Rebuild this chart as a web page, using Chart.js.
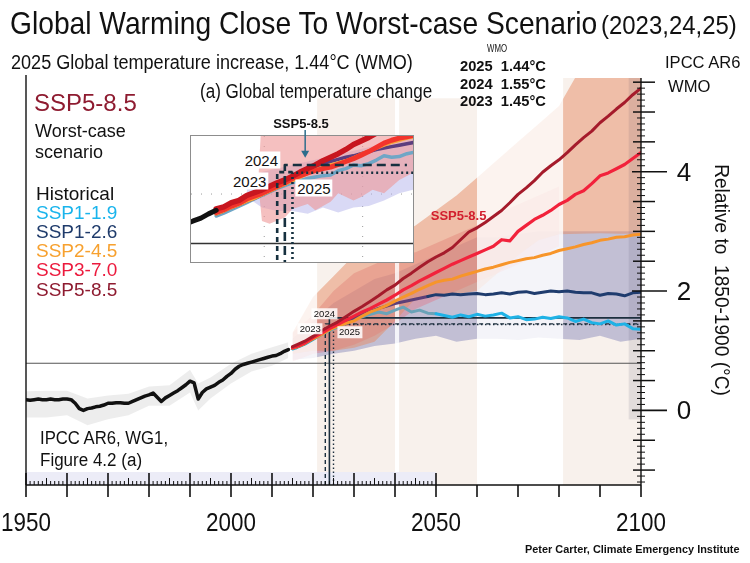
<!DOCTYPE html>
<html lang="en">
<head>
<meta charset="utf-8">
<title>Global Warming Close To Worst-case Scenario</title>
<script src="https://cdn.jsdelivr.net/npm/chart.js@4.4.1/dist/chart.umd.min.js"></script>
<style>
  html, body { margin: 0; padding: 0; background: #fff; }
  #wrap { position: relative; width: 750px; height: 563px; overflow: hidden; font-family: "Liberation Sans", Arial, sans-serif; color: #111; }
  #main { position: absolute; left: 0; top: 0; }
  #insetBox { position: absolute; left: 190px; top: 135px; width: 222px; height: 126px; border: 1.5px solid #8d8d8d; background: #fff; }
  #insetBox canvas { display: block; }
  #arrow { position: absolute; left: 0; top: 0; pointer-events: none; }
  .t { position: absolute; white-space: pre; line-height: 1; }
  .n { font-family: "Liberation Sans Narrow", "Arial Narrow", "Liberation Sans", Arial, sans-serif; }
</style>
</head>
<body>
<div id="wrap">
  <canvas id="main" width="750" height="563"></canvas>
  <div id="insetBox"><canvas id="inset" width="222" height="126"></canvas></div>
  <svg id="arrow" width="750" height="563"></svg>
</div>
<script>
// ---- main panel data (°C relative to 1850-1900) ----
const histYears = [1950,1951,1952,1953,1954,1955,1956,1957,1958,1959,1960,1961,1962,1963,1964,1965,1966,1967,1968,1969,
  1970,1971,1972,1973,1974,1975,1976,1977,1978,1979,1980,1981,1982,1983,1984,1985,1986,1987,1988,1989,
  1990,1991,1992,1993,1994,1995,1996,1997,1998,1999,2000,2001,2002,2003,2004,2005,2006,2007,2008,2009,
  2010,2011,2012,2013,2014];
const histTemps = [0.18,0.17,0.18,0.19,0.18,0.18,0.19,0.18,0.18,0.19,0.19,0.18,0.12,0.03,0.00,0.03,0.04,0.06,0.07,0.09,
  0.12,0.12,0.13,0.13,0.12,0.12,0.15,0.18,0.21,0.24,0.26,0.29,0.22,0.15,0.21,0.25,0.29,0.33,0.38,0.43,
  0.49,0.46,0.19,0.30,0.36,0.39,0.42,0.47,0.51,0.57,0.62,0.69,0.74,0.77,0.79,0.81,0.83,0.85,0.87,0.89,
  0.91,0.92,0.95,0.99,1.02];
const histBandYears = [1950,1955,1960,1965,1970,1975,1980,1985,1990,1992,1995,2000,2005,2010,2014];
const histBandHi = [0.32,0.33,0.33,0.20,0.25,0.28,0.40,0.42,0.68,0.45,0.55,0.78,0.95,1.06,1.14];
const histBandLo = [-0.12,-0.12,-0.08,-0.25,-0.15,-0.08,0.08,0.08,0.30,0.00,0.20,0.45,0.65,0.75,0.88];

const projYears = [2015,2016,2018,2020,2022,2024,2026,2028,2030,2032,2034,2036,2038,2040,2042,2044,2046,2048,2050,2052,2054,2056,
  2058,2060,2062,2064,2066,2068,2070,2072,2074,2076,2078,2080,2082,2084,2086,2088,2090,2092,2094,2096,2098,2100];
const ssp119 = [1.03,1.05,1.11,1.19,1.27,1.34,1.40,1.46,1.53,1.57,1.61,1.65,1.62,1.68,1.73,1.65,1.68,1.63,1.62,1.59,1.56,1.60,
  1.57,1.61,1.58,1.60,1.63,1.55,1.57,1.52,1.53,1.56,1.54,1.57,1.55,1.49,1.53,1.47,1.45,1.50,1.43,1.45,1.37,1.36];
const ssp126 = [1.04,1.06,1.12,1.20,1.28,1.36,1.43,1.49,1.55,1.60,1.66,1.71,1.75,1.79,1.82,1.85,1.88,1.91,1.94,1.93,1.95,1.94,
  1.95,1.96,1.94,1.95,1.97,1.95,1.98,1.99,1.96,1.98,2.00,1.99,2.00,1.98,1.97,1.97,1.93,1.96,1.95,1.92,1.97,1.98];
const ssp245 = [1.04,1.06,1.12,1.20,1.27,1.35,1.41,1.46,1.50,1.58,1.65,1.70,1.76,1.83,1.90,1.96,2.03,2.09,2.15,2.18,2.20,2.25,
  2.29,2.33,2.37,2.40,2.44,2.48,2.51,2.54,2.56,2.60,2.63,2.68,2.71,2.74,2.78,2.81,2.85,2.87,2.90,2.91,2.94,2.95];
const ssp370 = [1.05,1.07,1.13,1.22,1.29,1.37,1.44,1.51,1.58,1.65,1.71,1.78,1.85,1.93,2.02,2.09,2.17,2.24,2.31,2.38,2.45,2.51,
  2.57,2.63,2.69,2.75,2.86,2.84,3.00,3.10,3.20,3.27,3.35,3.45,3.52,3.62,3.68,3.80,3.93,3.98,4.05,4.12,4.22,4.32];
const ssp585 = [1.07,1.10,1.16,1.24,1.33,1.41,1.48,1.57,1.66,1.74,1.83,1.92,2.02,2.10,2.21,2.30,2.40,2.49,2.57,2.64,2.73,2.86,
  2.99,3.06,3.15,3.25,3.35,3.48,3.62,3.73,3.85,3.99,4.10,4.20,4.32,4.45,4.57,4.68,4.82,4.93,5.05,5.16,5.29,5.40];

const bandYears = [2015,2020,2025,2030,2035,2040,2045,2050,2055,2060,2065,2070,2075,2080,2085,2090,2095,2100];
const peachHi = [1.30,1.90,2.25,2.60,2.50,2.90,3.10,3.35,3.60,3.90,4.20,4.50,4.80,5.10,5.70,6.00,6.30,6.60];
const peachLo = [0.95,1.00,1.00,1.05,1.15,1.50,1.88,1.93,1.95,2.00,2.30,2.60,2.85,2.95,2.96,2.97,2.96,2.96];
const lavHi = [1.20,1.50,1.80,2.00,2.20,2.30,2.45,2.60,2.75,2.90,2.90,2.95,3.00,3.00,3.00,3.00,3.00,3.00];
const lavLo = [0.85,0.88,0.95,1.00,1.08,1.12,1.20,1.25,1.15,1.20,1.20,1.18,1.22,1.20,1.18,1.25,1.15,1.20];
const pinkYears = [2015,2020,2025,2030,2035,2040,2045,2050,2055,2060,2065,2070,2075,2080];
const pinkHi = [1.30,1.60,2.00,2.30,2.45,2.60,2.65,2.80,2.95,3.10,3.30,3.45,3.60,3.75];
const pinkLo = [0.82,0.95,1.00,1.10,1.25,1.45,1.70,1.85,2.00,2.15,2.30,2.45,2.60,2.75];

const wmoYears = [2023, 2024, 2025];
const wmoTemps = [1.45, 1.55, 1.44];
const refLine = 0.79;
const periodStart = [2021, 2041, 2081];
const periodEnd = [2040, 2060, 2100];
const periodTop = [5.23, 5.23, 5.57];
const fadeStart = [2014.5, 2040, 2060];
const fadeEnd = [2021, 2041, 2081];
const xTicks = [1950, 2000, 2050, 2100];
const yTicks = [0, 2, 4];
const legendNames = ['Historical', 'SSP1-1.9', 'SSP1-2.6', 'SSP2-4.5', 'SSP3-7.0', 'SSP5-8.5'];
const legendColors = ['#111111', '#19b4ec', '#1f3b6b', '#f7a12f', '#ec1a3d', '#8e1b30'];

// ---- inset "(a) Global temperature change" ----
const insetYears = [2015,2016,2017,2018,2019,2020,2021,2022,2023,2024,2025,2026,2027,2028,2029,2030,2031,2032,2033,2034,2035,2036,2037,2038,2039,2040,2041];
const inset585 = [0.93,0.96,1.02,1.05,1.12,1.16,1.20,1.25,1.30,1.34,1.39,1.45,1.50,1.55,1.61,1.66,1.71,1.77,1.84,1.89,1.94,2.00,2.05,2.10,2.15,2.20,2.25];
const inset370 = [0.88,0.92,0.97,1.01,1.07,1.11,1.15,1.20,1.25,1.30,1.36,1.40,1.44,1.47,1.50,1.52,1.56,1.60,1.64,1.69,1.74,1.80,1.86,1.90,1.93,1.95,1.97];
const inset245 = [0.86,0.90,0.95,0.99,1.04,1.08,1.13,1.18,1.23,1.28,1.33,1.38,1.43,1.48,1.52,1.55,1.58,1.61,1.65,1.70,1.75,1.79,1.83,1.87,1.90,1.93,1.95];
const inset126 = [0.86,0.90,0.95,0.99,1.04,1.08,1.13,1.18,1.23,1.28,1.34,1.40,1.46,1.52,1.57,1.60,1.63,1.66,1.68,1.71,1.74,1.77,1.79,1.81,1.83,1.85,1.87];
const inset119 = [0.83,0.87,0.92,0.97,1.02,1.07,1.12,1.17,1.22,1.26,1.30,1.33,1.36,1.38,1.40,1.41,1.47,1.50,1.55,1.54,1.57,1.62,1.68,1.66,1.67,1.71,1.73];
const insetHistYears = [2011, 2012, 2013, 2014, 2015];
const insetHist = [0.72, 0.76, 0.80, 0.86, 0.91];
const insetPinkYears = [2020.5,2021,2022,2024,2025,2027,2028,2030,2031,2033,2034,2035.5,2037,2039,2040.8];
const insetPinkLo = [1.30,0.76,0.72,0.81,0.93,1.00,0.91,1.03,1.15,1.05,1.10,1.20,1.15,1.34,1.44];
const insetPinkHi = [1.30,2.30,2.30,2.30,2.30,2.30,2.30,2.30,2.30,2.30,2.30,2.30,2.30,2.30,2.30];
const insetLavYears = [2019,2021,2023,2025,2027,2029,2031,2033,2035,2037,2039,2040.8];
const insetLavLo = [1.10,0.95,0.90,0.90,0.86,0.95,0.88,0.95,0.97,1.05,1.15,1.20];
const insetLavHi = [1.20,1.45,1.50,1.55,1.60,1.65,1.70,1.75,1.80,1.85,1.90,1.95];
const insetZero = 0.44;
const insetGridX = [2021.3, 2034.2];
const insetGridY = [1.14];

const pts = (xs, ys) => xs.map((x, i) => ({ x, y: ys[i] }));

function line(data, color, width, order, extra) {
  return Object.assign({ data, borderColor: color, borderWidth: width, pointRadius: 0, fill: false, order,
    borderCapStyle: 'round', borderJoinStyle: 'round' }, extra || {});
}
function edge(data, order) {
  return { data, borderColor: 'rgba(0,0,0,0)', borderWidth: 0, pointRadius: 0, fill: false, order };
}
function band(data, color, order, extra) {
  return Object.assign({ data, borderColor: 'rgba(0,0,0,0)', borderWidth: 0, pointRadius: 0, fill: '-1',
    backgroundColor: color, order }, extra || {});
}

const Y_MIN = -1.25, Y_MAX = 5.57;
const mainDash = { 2023: [4, 3], 2024: [], 2025: [1.5, 2.5] };

const frame = {
  id: 'frame',
  beforeDatasetsDraw(chart) {
    const { ctx, chartArea: a, scales: { x, y } } = chart;
    ctx.save();
    ctx.fillStyle = '#f8f1ec';
    periodStart.forEach((p, i) => {
      const x0 = x.getPixelForValue(p), x1 = x.getPixelForValue(periodEnd[i]);
      const yt = y.getPixelForValue(periodTop[i]);
      ctx.fillRect(x0, yt, x1 - x0, a.bottom - yt);
    });
    ctx.fillStyle = '#ececf7';
    const s0 = x.getPixelForValue(1950), s1 = x.getPixelForValue(2050);
    ctx.fillRect(s0, a.bottom - 13, s1 - s0, 13);
    ctx.restore();
  },
  afterDatasetDraw(chart, args) {
    if (!chart.data.datasets[args.index].fadeAfter) return;
    const { ctx, chartArea: a, scales: { x, y } } = chart;
    ctx.save();
    ctx.fillStyle = 'rgba(255,255,255,0.8)';
    const yb = y.getPixelForValue(0.5);
    fadeStart.forEach((f, i) => {
      const x0 = x.getPixelForValue(f), x1 = x.getPixelForValue(fadeEnd[i]);
      ctx.fillRect(x0, a.top, x1 - x0, yb - a.top);
    });
    ctx.fillStyle = 'rgba(70,70,100,0.12)';
    const d0 = x.getPixelForValue(2097);
    ctx.fillRect(d0, a.top, a.right - d0, y.getPixelForValue(-0.15) - a.top);
    ctx.restore();
  },
  afterDraw(chart) {
    const { ctx, chartArea: a, scales: { x, y } } = chart;
    ctx.save();
    ctx.strokeStyle = '#111';
    const seg = (x0, y0, x1, y1) => { ctx.beginPath(); ctx.moveTo(x0, y0); ctx.lineTo(x1, y1); ctx.stroke(); };
    ctx.lineWidth = 1.4;
    seg(a.left, a.top - 3, a.left, a.bottom);
    seg(a.right, a.top, a.right, a.bottom);
    seg(a.left, a.bottom, a.right, a.bottom);
    for (let yr = 1950; yr <= 2050; yr++) {
      const px = x.getPixelForValue(yr);
      const up = yr % 10 === 0 ? 12 : (yr % 5 === 0 ? 7 : 4);
      ctx.lineWidth = yr % 10 === 0 ? 1.6 : 1;
      seg(px, a.bottom, px, a.bottom - up);
    }
    ctx.lineWidth = 1.6;
    for (let yr = 1950; yr <= 2100; yr += 10) {
      const px = x.getPixelForValue(yr);
      seg(px, a.bottom, px, a.bottom + 12);
    }
    for (let k = -12; k <= 55; k++) {
      const py = y.getPixelForValue(k / 10);
      if (k % 20 === 0 && k >= 0) { ctx.lineWidth = 1.6; seg(a.right - 9, py, a.right + 26, py); }
      else if (k % 5 === 0) { ctx.lineWidth = 1.5; seg(a.right - 8, py, a.right + 14, py); }
      else { ctx.lineWidth = 1; seg(a.right - 4, py, a.right + 4, py); }
    }
    ctx.restore();
  }
};

const annotations = wmoYears.map((yr, i) => line(
  [{ x: yr, y: Y_MIN }, { x: yr, y: wmoTemps[i] }, { x: 2100, y: wmoTemps[i] }],
  '#1c2f3e', yr === 2024 ? 1.6 : 1.4, 6, { borderDash: mainDash[yr], borderCapStyle: 'butt' }));

const mainChart = new Chart(document.getElementById('main'), {
  type: 'line',
  data: {
    datasets: [
      line(pts(histYears, histTemps), '#111', 3.5, 0),
      line(pts(projYears, ssp585), '#a51b2b', 3, 1),
      line(pts(projYears, ssp370), '#f2223b', 3.2, 2),
      line(pts(projYears, ssp245), '#f7952a', 3, 3),
      line(pts(projYears, ssp126), '#1f3c6e', 3, 4, {
        segment: { borderColor: c => c.p0.parsed.x < 2047 ? '#5c3f78' : '#1f3c6e' } }),
      line(pts(projYears, ssp119), '#1fb2e6', 3, 5, {
        segment: { borderColor: c => (c.p0.parsed.x >= 2026 && c.p0.parsed.x < 2049) ? '#6aa3b8' : '#1fb2e6' } }),
      ...annotations,
      line([{ x: 1950, y: refLine }, { x: 2100, y: refLine }], '#555', 1.2, 7, { borderCapStyle: 'butt' }),
      edge(pts(bandYears, peachLo), 11),
      band(pts(bandYears, peachHi), 'rgba(230,140,100,0.5)', 10, { fadeAfter: true }),
      edge(pts(pinkYears, pinkLo), 13),
      band(pts(pinkYears, pinkHi), 'rgba(225,120,140,0.45)', 12),
      edge(pts(bandYears, lavLo), 15),
      band(pts(bandYears, lavHi), 'rgba(135,135,185,0.48)', 14),
      edge(pts(histBandYears, histBandLo), 17),
      band(pts(histBandYears, histBandHi), 'rgba(0,0,0,0.07)', 16)
    ]
  },
  options: {
    responsive: false, animation: false, events: [],
    layout: { padding: { left: 26, right: 109, top: 78, bottom: 78 } },
    plugins: { legend: { display: false }, tooltip: { enabled: false } },
    scales: {
      x: { type: 'linear', min: 1950, max: 2100, display: false },
      y: { type: 'linear', min: Y_MIN, max: Y_MAX, display: false }
    },
    elements: { line: { tension: 0 } }
  },
  plugins: [frame]
});

// ---- inset chart ----
const insetRunTo = { 2023: 2025, 2024: 2040, 2025: 2040.8 };
const insetDash = { 2023: [5, 4], 2024: [9, 5], 2025: [2, 3] };
const insetGrid = {
  id: 'insetGrid',
  beforeDatasetsDraw(chart) {
    const { ctx, chartArea: a, scales: { x, y } } = chart;
    ctx.save();
    ctx.strokeStyle = '#9a9a9a';
    ctx.lineWidth = 1;
    ctx.setLineDash([1, 9]);
    insetGridY.forEach(v => { const py = y.getPixelForValue(v); ctx.beginPath(); ctx.moveTo(a.left, py); ctx.lineTo(a.right, py); ctx.stroke(); });
    insetGridX.forEach(v => { const px = x.getPixelForValue(v); ctx.beginPath(); ctx.moveTo(px, a.top); ctx.lineTo(px, a.bottom); ctx.stroke(); });
    ctx.restore();
  }
};
const insetMin = 0.18, insetMax = 1.96;
const insetChart = new Chart(document.getElementById('inset'), {
  type: 'line',
  data: {
    datasets: [
      ...wmoYears.map((yr, i) => line(
        [{ x: yr, y: insetMin - 0.1 }, { x: yr, y: wmoTemps[i] }, { x: insetRunTo[yr], y: wmoTemps[i] }],
        '#16303f', 2.6, 0, { borderDash: insetDash[yr], borderCapStyle: 'butt' })),
      line(pts(insetHistYears, insetHist), '#111', 5, 1),
      line(pts(insetYears, inset585), '#c8161f', 5.5, 2),
      line(pts(insetYears, inset370), '#f2342c', 5, 3),
      line(pts(insetYears, inset245), '#f7a43a', 3.5, 4),
      line(pts(insetYears, inset126), '#5c3d7e', 3.5, 5),
      line(pts(insetYears, inset119), '#6fa6c6', 3.5, 6),
      line([{ x: 2011, y: insetZero }, { x: 2042, y: insetZero }], '#333', 1.5, 7, { borderCapStyle: 'butt' }),
      edge(pts(insetPinkYears, insetPinkLo), 9),
      band(pts(insetPinkYears, insetPinkHi), 'rgba(239,150,150,0.6)', 8),
      edge(pts(insetLavYears, insetLavLo), 11),
      band(pts(insetLavYears, insetLavHi), 'rgba(180,180,235,0.5)', 10)
    ]
  },
  options: {
    responsive: false, animation: false, events: [],
    layout: { padding: 0 },
    plugins: { legend: { display: false }, tooltip: { enabled: false } },
    scales: {
      x: { type: 'linear', min: 2011.7, max: 2040.8, display: false },
      y: { type: 'linear', min: insetMin, max: insetMax, display: false }
    },
    elements: { line: { tension: 0 } }
  },
  plugins: [insetGrid]
});

// ---- text ----
const wrap = document.getElementById('wrap');
function addText(txt, x, y, o = {}) {
  const d = document.createElement('div');
  d.className = 't ' + (o.cls || '');
  d.textContent = txt;
  d.style.fontSize = o.size + 'px';
  if (o.color) d.style.color = o.color;
  if (o.bold) d.style.fontWeight = 'bold';
  if (o.bg) { d.style.background = o.bg; d.style.padding = '1px 2px'; }
  d.style.left = x + 'px';
  d.style.top = y + 'px';
  wrap.appendChild(d);
  const k = o.w ? o.w / d.offsetWidth : 1;
  d.style.transformOrigin = o.center ? '50% 50%' : '0 50%';
  d.style.transform = (o.center ? 'translate(-50%,-50%) ' : 'translateY(-50%) ') +
    (o.rot ? 'rotate(' + o.rot + 'deg) ' : '') + 'scaleX(' + k + ')';
  return d;
}

addText('Global Warming Close To Worst-case Scenario', 10, 23, { size: 32, cls: 'n', w: 587 });
addText('(2023,24,25)', 601, 25, { size: 25, cls: 'n', w: 136 });
addText('2025 Global temperature increase, 1.44°C (WMO)', 11, 62, { size: 20, cls: 'n', w: 402 });
addText('WMO', 487, 48, { size: 11, cls: 'n', w: 20 });
[...wmoYears].reverse().forEach((yr, r) => {
  const t = wmoTemps[wmoYears.indexOf(yr)];
  addText(yr + '  ' + t.toFixed(2) + '°C', 460, 66 + r * 17.5, { size: 14, bold: true, cls: 'n', w: 86 });
});
addText('IPCC AR6', 665, 62, { size: 17, w: 75 });
addText('WMO', 668, 86, { size: 17, w: 42 });
addText('(a) Global temperature change', 200, 91, { size: 20, cls: 'n', w: 232 });
addText('SSP5-8.5', 34, 103, { size: 24, color: '#8e1b30' });
addText('Worst-case', 35, 131, { size: 18 });
addText('scenario', 35, 152, { size: 18 });
legendNames.forEach((s, i) => addText(s, 36, 193 + i * 19.1, { size: 19, color: legendColors[i] }));
addText('IPCC AR6, WG1,', 40, 438, { size: 18, w: 128 });
addText('Figure 4.2 (a)', 40, 460, { size: 18, w: 102 });
addText('Peter Carter, Climate Emergency Institute', 525, 549, { size: 10.5, bold: true, w: 215 });
addText('Relative to  1850-1900 (°C)', 722, 280, { size: 20, center: true, rot: 90, w: 232 });

const mx = mainChart.scales.x, my = mainChart.scales.y, area = mainChart.chartArea;
xTicks.forEach(v => addText(String(v), mx.getPixelForValue(v), 522, { size: 26, cls: 'n', w: 50, center: true }));
yTicks.forEach(v => addText(String(v), area.right + 43, my.getPixelForValue(v), { size: 26, center: true }));
addText('SSP5-8.5', mx.getPixelForValue(2055.5), my.getPixelForValue(3.28), { size: 13, bold: true, color: '#d21f2e', center: true });

const mainLabelOffset = { 2023: [-15, 5], 2024: [-5, -4], 2025: [16, 8] };
wmoYears.forEach((yr, i) => {
  const [dx, dy] = mainLabelOffset[yr];
  addText(String(yr), mx.getPixelForValue(yr) + dx, my.getPixelForValue(wmoTemps[i]) + dy,
    { size: 9.5, center: true, bg: 'rgba(255,255,255,0.85)' });
});

const ix = v => 191.5 + insetChart.scales.x.getPixelForValue(v);
const iy = v => 136.5 + insetChart.scales.y.getPixelForValue(v);
const insetLabelOffset = { 2023: [-28, 8], 2024: [-24, -6], 2025: [21, 15] };
wmoYears.forEach((yr, i) => {
  const [dx, dy] = insetLabelOffset[yr];
  addText(String(yr), ix(yr) + dx, iy(wmoTemps[i]) + dy, { size: 15, center: true, bg: '#fff' });
});
addText('SSP5-8.5', 301, 123, { size: 13, bold: true, center: true });

// arrow from the inset label down into the inset
const ax = ix(2026.6), ay = iy(1.66);
document.getElementById('arrow').innerHTML =
  '<line x1="' + ax + '" y1="130" x2="' + ax + '" y2="' + (ay - 5) + '" stroke="#2d6d8c" stroke-width="1.5"/>' +
  '<path d="M' + (ax - 4) + ',' + (ay - 7) + ' L' + ax + ',' + ay + ' L' + (ax + 4) + ',' + (ay - 7) + ' Z" fill="#2d6d8c"/>';
</script>
</body>
</html>
